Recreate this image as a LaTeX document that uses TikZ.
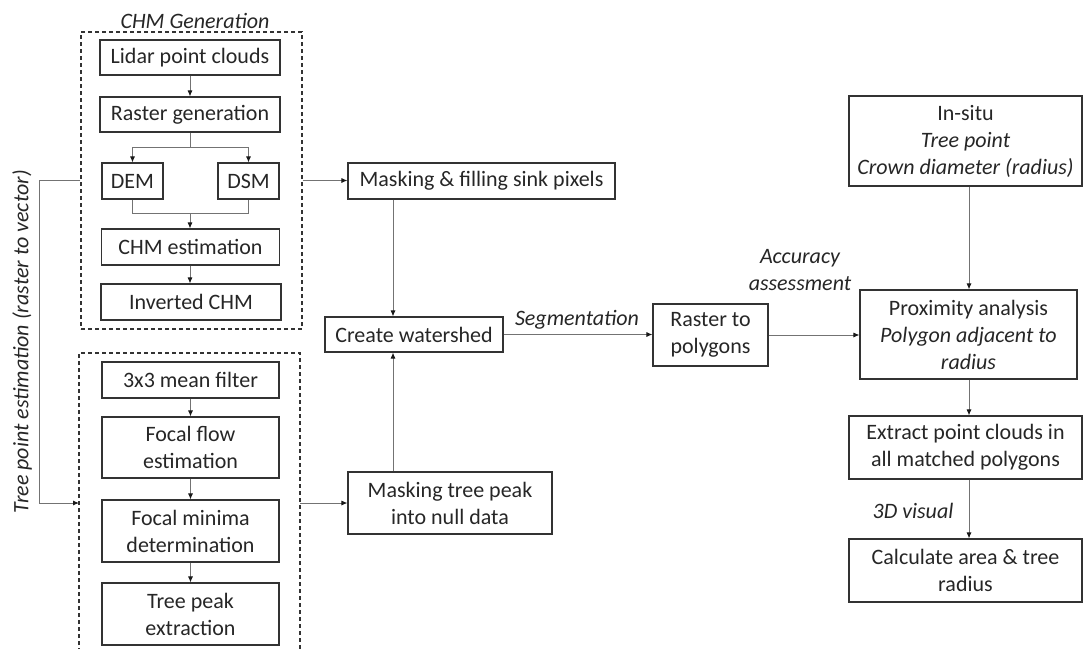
\documentclass[tikz,border=0pt]{standalone}
\usepackage{fontspec}
\setmainfont{Carlito}
\usetikzlibrary{arrows.meta}
\begin{document}
\begin{tikzpicture}[x=1pt,y=-1pt,
  every node/.style={text=black!85, font=\fontsize{22}{27}\selectfont},
  box/.style={draw=black!80, line width=1.1pt, rectangle, inner sep=0pt, align=center},
  dbox/.style={draw=black!80, line width=1.1pt, dash pattern=on 4pt off 3pt},
  lne/.style={draw=black!55, line width=0.9pt},
  conn/.style={lne, -{Latex[length=6pt,width=5pt,color=black!90]}},
  lbl/.style={font=\fontsize{22}{27}\selectfont\itshape, align=center}]
\useasboundingbox (0,0) rectangle (1084,648);

% CHM generation group
\node[dbox, minimum width=221pt, minimum height=297pt, inner sep=0pt] (g1) at (191.5,180.5) {};
\node[lbl] (t1) at (195,21) {CHM Generation};
\node[box, minimum width=180pt, minimum height=35pt] (lidar) at (190,57.5) {Lidar point clouds};
\node[box, minimum width=180pt, minimum height=35pt] (raster) at (190,114.5) {Raster generation};
\node[box, minimum width=61pt, minimum height=36pt] (dem) at (132.5,181) {DEM};
\node[box, minimum width=61pt, minimum height=36pt] (dsm) at (248.5,181) {DSM};
\node[box, minimum width=178pt, minimum height=36pt] (chmest) at (190.5,247) {CHM estimation};
\node[box, minimum width=180pt, minimum height=36pt] (inv) at (191,302) {Inverted CHM};

% tree point group
\draw[dbox] (79,652) -- (79,353) -- (300,353) -- (300,652);
\coordinate (g2w) at (79,503);
\coordinate (g2e) at (300,503);
\node[box, minimum width=177pt, minimum height=36pt] (mean) at (190.5,380) {3x3 mean filter};
\node[box, minimum width=177pt, minimum height=61pt] (flow) at (190.5,447.5) {Focal flow\\estimation};
\node[box, minimum width=177pt, minimum height=62pt] (minima) at (190.5,531) {Focal minima\\determination};
\node[box, minimum width=177pt, minimum height=62pt] (peak) at (190.5,614) {Tree peak\\extraction};

\node[lbl, rotate=90] (side) at (22,342) {Tree point estimation (raster to vector)};

% middle
\node[box, minimum width=267pt, minimum height=36pt] (maskfill) at (481.5,181) {Masking \& filling sink pixels};
\node[box, minimum width=178pt, minimum height=35pt] (water) at (414,334.5) {Create watershed};
\node[box, minimum width=204pt, minimum height=62pt] (maskpeak) at (450,503) {Masking tree peak\\into null data};
\node[box, minimum width=115pt, minimum height=62pt] (r2p) at (710.5,335) {Raster to\\polygons};

% right
\node[box, minimum width=233pt, minimum height=90pt] (insitu) at (965.5,141) {In-situ\\\textit{Tree point}\\\textit{Crown diameter (radius)}};
\node[box, minimum width=217pt, minimum height=89pt] (prox) at (968.5,334.5) {Proximity analysis\\\textit{Polygon adjacent to}\\\textit{radius}};
\node[box, minimum width=233pt, minimum height=63pt] (extract) at (965.5,447.5) {Extract point clouds in\\all matched polygons};
\node[box, minimum width=233pt, minimum height=63pt] (calc) at (965.5,570.5) {Calculate area \& tree\\radius};

% labels
\node[lbl] (seg) at (577,320) {Segmentation};
\node[lbl] (acc) at (800,270) {Accuracy\\assessment};
\node[lbl] (vis) at (913,511) {3D visual};

% connectors inside group 1
\draw[conn] (lidar) -- (raster);
\coordinate (rb) at (190,147);
\draw[lne] (raster.south) -- (rb);
\draw[lne] (rb -| dem) -- (rb -| dsm);
\draw[conn] (rb -| dem) -- (dem.north);
\draw[conn] (rb -| dsm) -- (dsm.north);
\coordinate (mb) at (190,213);
\draw[lne] (dem.south) -- (dem.south |- mb) -- (dsm.south |- mb) -- (dsm.south);
\draw[conn] (mb) -- (mb |- chmest.north);
\draw[conn] (chmest.south -| 190,0) -- (inv.north -| 190,0);

% group 2
\draw[conn] (mean) -- (flow);
\draw[conn] (flow) -- (minima);
\draw[conn] (minima) -- (peak);

% links between groups
\draw[conn] (g1.west) -- ++(-41,0) |- (g2w);
\draw[conn] (g1.east) -- (maskfill.west |- g1.east);
\draw[conn] (g2e) -- (maskpeak.west |- g2e);
\coordinate (vx) at (393,0);
\draw[conn] (maskfill.south -| vx) -- (water.north -| vx);
\draw[conn] (maskpeak.north -| vx) -- (water.south -| vx);
\draw[conn] (water.east) -- (water.east -| r2p.west);
\draw[conn] (r2p.east) -- (r2p.east -| prox.west);
\draw[conn] (insitu.south -| 969,0) -- (prox.north -| 969,0);
\draw[conn] (prox.south -| 969,0) -- (extract.north -| 969,0);
\draw[conn] (extract.south -| 969,0) -- (calc.north -| 969,0);
\end{tikzpicture}
\end{document}
